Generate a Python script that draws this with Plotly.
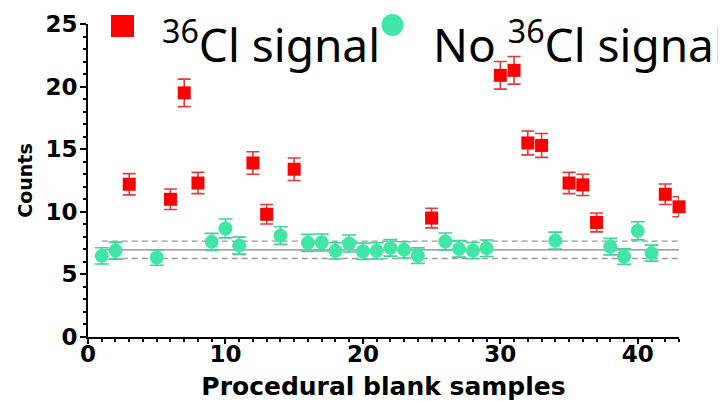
import plotly.graph_objects as go

# ---- data ----
red_x = [3, 6, 7, 8, 12, 13, 15, 25, 30, 31, 32, 33, 35, 36, 37, 42, 43]
red_y = [12.2, 11.0, 19.5, 12.3, 13.9, 9.8, 13.4, 9.5, 20.9, 21.3, 15.5, 15.3, 12.3, 12.15, 9.15, 11.4, 10.4]
red_err = [0.85, 0.82, 1.1, 0.85, 0.9, 0.78, 0.9, 0.78, 1.1, 1.1, 0.95, 0.95, 0.85, 0.85, 0.75, 0.82, 0.8]

green_x = [1, 2, 5, 9, 10, 11, 14, 16, 17, 18, 19, 20, 21, 22, 23, 24, 26, 27, 28, 29, 34, 38, 39, 40, 41]
green_y = [6.48, 6.9, 6.35, 7.6, 8.67, 7.3, 8.1, 7.52, 7.55, 6.88, 7.47, 6.85, 6.88, 7.12, 6.96, 6.5,
           7.63, 7.04, 6.9, 7.09, 7.7, 7.22, 6.43, 8.48, 6.7]
green_err = [0.65, 0.68, 0.62, 0.68, 0.75, 0.68, 0.7, 0.68, 0.68, 0.65, 0.68, 0.65, 0.65, 0.66, 0.65, 0.62,
             0.68, 0.66, 0.65, 0.66, 0.68, 0.66, 0.62, 0.72, 0.64]

band_x = [1, 43]
mean_level = 6.96
upper_level = 7.66
lower_level = 6.27

x_ticks = [0, 10, 20, 30, 40]
y_ticks = [0, 5, 10, 15, 20, 25]

RED = "#ff0000"
GREEN = "#40e6a6"

fig = go.Figure()

# reference lines
fig.add_trace(go.Scatter(x=band_x, y=[mean_level] * 2, mode="lines",
                         line=dict(color="#a8a8a8", width=1.6), hoverinfo="skip", showlegend=False))
fig.add_trace(go.Scatter(x=band_x, y=[upper_level] * 2, mode="lines",
                         line=dict(color="#9a9a9a", width=1.3, dash="6px,4px"), hoverinfo="skip", showlegend=False))
fig.add_trace(go.Scatter(x=band_x, y=[lower_level] * 2, mode="lines",
                         line=dict(color="#9a9a9a", width=1.3, dash="6px,4px"), hoverinfo="skip", showlegend=False))

fig.add_trace(go.Scatter(
    x=green_x, y=green_y, mode="markers", cliponaxis=False, showlegend=False,
    marker=dict(symbol="circle", size=14, color=GREEN),
    error_y=dict(type="data", array=green_err, color="#3ad49c", thickness=1.6, width=7),
))
fig.add_trace(go.Scatter(
    x=red_x, y=red_y, mode="markers", cliponaxis=False, showlegend=False,
    marker=dict(symbol="square", size=13, color=RED),
    error_y=dict(type="data", array=red_err, color="#e23a3a", thickness=1.6, width=6.5),
))

# page has an 8px body margin: figure origin is at (8, 8) in the window
OFF = 8
W, H = 726 - OFF, 401 - OFF
L, T = 88 - OFF, 24 - OFF
R = W - (679 - OFF)
B = H - (337 - OFF)
pw, ph = W - L - R, H - T - B


def px_x(p):
    # window pixel -> paper x
    return (p - OFF - L) / pw


def px_y(p):
    # window pixel -> paper y
    return (H - B - (p - OFF)) / ph


fig.add_shape(type="rect", xref="paper", yref="paper",
              x0=px_x(111), x1=px_x(134), y0=px_y(37), y1=px_y(15),
              fillcolor=RED, line=dict(width=0))
fig.add_shape(type="circle", xref="paper", yref="paper",
              x0=px_x(381.5), x1=px_x(403.5), y0=px_y(36), y1=px_y(14),
              fillcolor=GREEN, line=dict(width=0))
legend_font = dict(family="Noto Sans", size=46, color="black")
fig.add_annotation(xref="paper", yref="paper", x=px_x(160), y=px_y(42), xanchor="left", yanchor="middle",
                   text="<sup>36</sup>Cl signal", showarrow=False, font=legend_font)
fig.add_annotation(xref="paper", yref="paper", x=px_x(431), y=px_y(42), xanchor="left", yanchor="middle",
                   text="No <sup>36</sup>Cl signal", showarrow=False, font=legend_font)

tickfont = dict(family="DejaVu Sans", size=23, color="black", weight="bold")
fig.update_xaxes(
    range=[0, 43], tickvals=x_ticks, ticks="outside", ticklen=5, tickwidth=2, tickcolor="black",
    minor=dict(dtick=1, ticks="outside", ticklen=3, tickwidth=1.5, tickcolor="black"),
    showline=True, linecolor="black", linewidth=2, showgrid=False, zeroline=False,
    tickfont=tickfont, ticklabelstandoff=-10,
    title=dict(text="Procedural blank samples", font=dict(family="DejaVu Sans", size=25, color="black", weight="bold"),
               standoff=17),
)
fig.update_yaxes(
    range=[0, 25], tickvals=y_ticks, ticks="outside", ticklen=6, tickwidth=2, tickcolor="black",
    minor=dict(dtick=1, ticks="outside", ticklen=3.5, tickwidth=1.5, tickcolor="black"),
    showline=True, linecolor="black", linewidth=2, showgrid=False, zeroline=False,
    tickfont=tickfont, ticklabelstandoff=-2,
    title=dict(text="Counts", font=dict(family="DejaVu Sans", size=19, color="black", weight="bold"), standoff=8),
)
fig.update_layout(
    width=W, height=H, margin=dict(l=L, r=R, t=T, b=B, autoexpand=False),
    plot_bgcolor="white", paper_bgcolor="white",
)
fig.write_html("out.html")
